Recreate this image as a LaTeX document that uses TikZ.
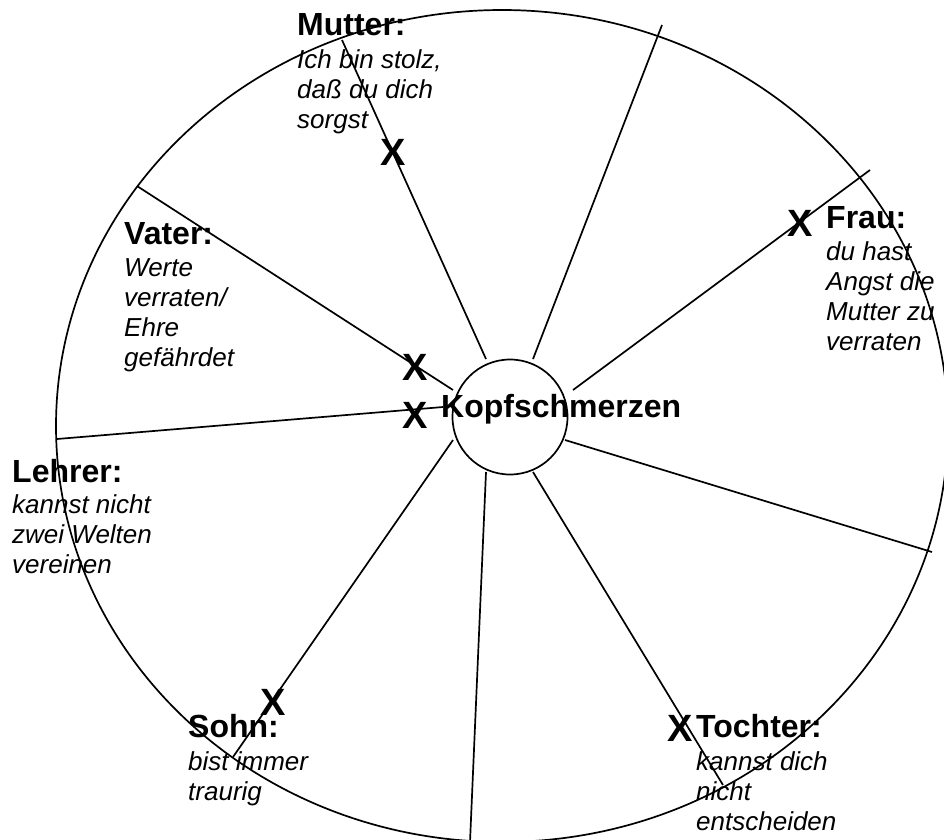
\documentclass[tikz,border=0pt]{standalone}
\usepackage{fontspec}
\setmainfont{Liberation Sans}
\tikzset{
  spoke/.style={line width=1.7pt},
  rim/.style={line width=1.7pt},
  head/.style={anchor=base west, inner sep=0pt, font=\bfseries\fontsize{32}{36}\selectfont},
  body/.style={anchor=base west, inner sep=0pt, font=\itshape\fontsize{26}{30}\selectfont},
  xmark/.style={anchor=center, inner sep=0pt, font=\bfseries\fontsize{38}{44}\selectfont},
}
\newcommand{\lines}[1]{\begin{tabular}[t]{@{}l@{}}#1\end{tabular}}
\begin{document}
\begin{tikzpicture}[x=1pt,y=-1pt]
\useasboundingbox (0,0) rectangle (944,839);
\clip (0,0) rectangle (944,839);
\fill[white] (0,0) rectangle (944,839);
% outer rim
\draw[rim] (502,426) ellipse [x radius=446pt, y radius=416pt];
% hub
\node[circle, draw, line width=1.7pt, minimum size=115pt, inner sep=0pt] (hub) at (510,417) {};
% spoke ends
\coordinate (i1) at (486,359); \coordinate (o1) at (342,40);
\coordinate (i2) at (533,359); \coordinate (o2) at (662,25);
\coordinate (i3) at (573,390); \coordinate (o3) at (870,170);
\coordinate (i4) at (565,440); \coordinate (o4) at (932,552);
\coordinate (i5) at (533,472); \coordinate (o5) at (723,785);
\coordinate (i6) at (486,472); \coordinate (o6) at (470,842);
\coordinate (i7) at (453,440); \coordinate (o7) at (233,757);
\coordinate (i8) at (443,407); \coordinate (o8) at (57,439);
\coordinate (i9) at (453,390); \coordinate (o9) at (137,186);
\foreach \k in {1,...,9} { \draw[spoke] (i\k) -- (o\k); }
% centre text
\node[anchor=base west, inner sep=0pt, font=\bfseries\fontsize{32}{36}\selectfont] (kopf) at (441,417) {Kopfschmerzen};
% Mutter
\node[head] (mutterH) at (297,35) {Mutter:};
\node[body] (mutterB) at (297,68) {\lines{Ich bin stolz,\\daß du dich\\sorgst}};
\node[xmark] (xm) at (393,152) {X};
% Vater
\node[head] (vaterH) at (124,244) {Vater:};
\node[body] (vaterB) at (124,276) {\lines{Werte\\verraten/\\Ehre\\gefährdet}};
\node[xmark] (xv1) at (415,367) {X};
\node[xmark] (xv2) at (415,415) {X};
% Frau
\node[xmark] (xf) at (800,223) {X};
\node[head] (frauH) at (826,228) {Frau:};
\node[body] (frauB) at (826,260) {\lines{du hast\\Angst die\\Mutter zu\\verraten}};
% Lehrer
\node[head] (lehrerH) at (12,482) {Lehrer:};
\node[body] (lehrerB) at (12,513) {\lines{kannst nicht\\zwei Welten\\vereinen}};
% Sohn
\node[xmark] (xs) at (273,702) {X};
\node[head] (sohnH) at (188,737) {Sohn:};
\node[body] (sohnB) at (188,770) {\lines{bist immer\\traurig}};
% Tochter
\node[xmark] (xt) at (680,728) {X};
\node[head] (tochterH) at (696,737) {Tochter:};
\node[body] (tochterB) at (696,770) {\lines{kannst dich\\nicht\\entscheiden}};
\end{tikzpicture}
\end{document}
